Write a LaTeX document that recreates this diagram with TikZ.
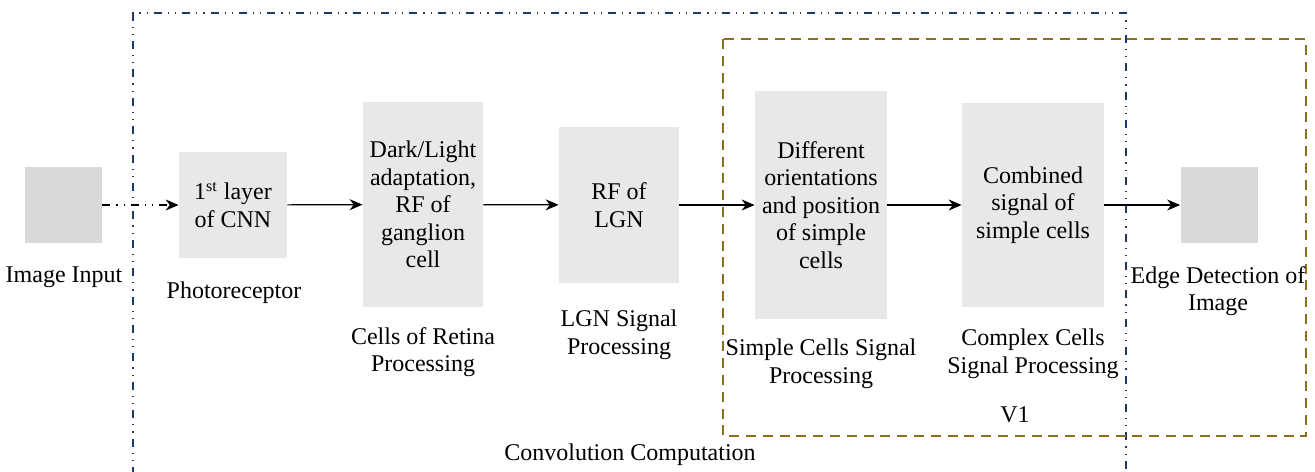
\documentclass[tikz,border=0pt]{standalone}
\usepackage{fontspec}
\setmainfont{Liberation Serif}
\usetikzlibrary{arrows.meta}

\definecolor{framenavy}{RGB}{31,56,100}
\definecolor{frameolive}{RGB}{140,110,30}
\definecolor{cellgray}{RGB}{232,232,232}
\definecolor{imggray}{RGB}{217,217,217}

\tikzset{
  cellbox/.style={fill=cellgray, inner sep=0pt, align=center},
  imgbox/.style={fill=imggray, inner sep=0pt, minimum width=38.5pt, minimum height=38pt},
  caption/.style={align=center, inner sep=0pt},
  flow/.style={-{Stealth[length=6.5pt,width=5.5pt]}, line width=0.6pt},
  dashdotdot/.style={dash pattern=on 4pt off 3pt on 0.6pt off 3pt on 0.6pt off 3pt},
}

\begin{document}
\begin{tikzpicture}[x=0.5pt, y=-0.5pt, font=\fontsize{12}{13.8}\selectfont]
\useasboundingbox (0,0) rectangle (1315,471);

% frames
\draw[framenavy, line width=0.6pt, dashdotdot] (133,475) -- (133,13) -- (1126,13) -- (1126,475);
\draw[frameolive, line width=0.7pt, dash pattern=on 5pt off 3.4pt] (723,39) rectangle (1306,436);

\node[imgbox] (In) at (63.5,205) {};
\node[caption] (InLbl) at (64,277) {Image Input};

\node[cellbox, minimum width=54pt, minimum height=53pt] (Photo) at (233,205) {1\textsuperscript{st} layer\\of CNN};
\node[caption] (PhotoLbl) at (234,293) {Photoreceptor};

\node[cellbox, minimum width=60pt, minimum height=102.5pt] (Retina) at (423,204.5) {Dark/Light\\adaptation,\\RF of\\ganglion\\cell};
\node[caption] (RetinaLbl) at (423,352) {Cells of Retina\\Processing};

\node[cellbox, minimum width=60pt, minimum height=78pt] (LGN) at (619,205) {RF of\\LGN};
\node[caption] (LGNLbl) at (619,335) {LGN Signal\\Processing};

\node[cellbox, minimum width=66pt, minimum height=114pt] (Simple) at (821,205) {Different\\orientations\\and position\\of simple\\cells};
\node[caption] (SimpleLbl) at (821,364) {Simple Cells Signal\\Processing};

\node[cellbox, minimum width=71pt, minimum height=102pt] (Complex) at (1033,205) {Combined\\signal of\\simple cells};
\node[caption] (ComplexLbl) at (1033,354) {Complex Cells\\Signal Processing};

\node[imgbox] (Out) at (1219,205) {};
\node[caption] (OutLbl) at (1218,291) {Edge Detection of\\Image};

\node[caption] (V1) at (1015,415) {V1};
\node[caption] (Conv) at (630,455) {Convolution Computation};

\draw[flow, dashdotdot] (In) -- (Photo);
\draw[flow] (Photo) -- (Retina);
\draw[flow] (Retina) -- (LGN);
\draw[flow] (LGN) -- (Simple);
\draw[flow] (Simple) -- (Complex);
\draw[flow] (Complex) -- (Out);
\end{tikzpicture}
\end{document}
